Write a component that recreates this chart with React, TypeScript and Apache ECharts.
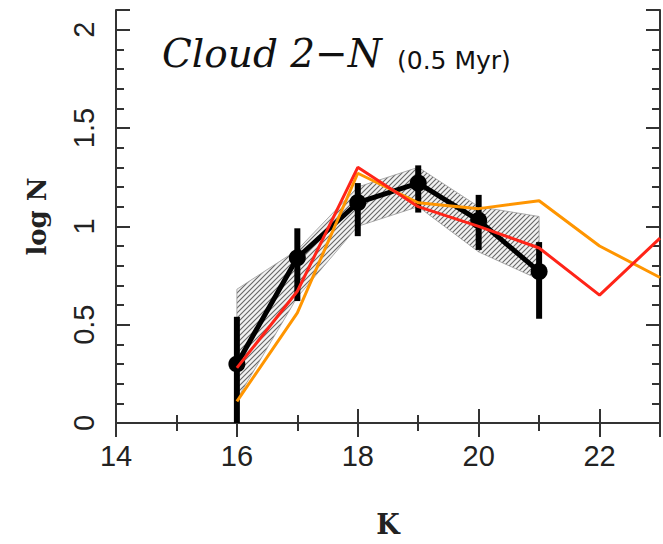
import React, { useEffect, useRef } from "react";
import * as echarts from "echarts";

const K = [16, 17, 18, 19, 20, 21];
const logN = [0.30, 0.84, 1.12, 1.22, 1.03, 0.77];
const errLo = [0.0, 0.62, 0.95, 1.07, 0.88, 0.53];
const errHi = [0.54, 0.99, 1.22, 1.31, 1.16, 0.92];
const bandLo = [0.12, 0.64, 1.0, 1.1, 0.87, 0.73];
const bandHi = [0.68, 0.88, 1.2, 1.3, 1.1, 1.05];

const modelK = [16, 17, 18, 19, 20, 21, 22, 23];
const redModel = [0.28, 0.67, 1.30, 1.10, 1.00, 0.89, 0.65, 0.94];
const orangeModel = [0.11, 0.56, 1.27, 1.12, 1.09, 1.13, 0.90, 0.74];

const xMajorTicks = [14, 16, 18, 20, 22];
const yMajorTicks = [0, 0.5, 1, 1.5, 2];

function makeHatch(): HTMLCanvasElement {
  const c = document.createElement("canvas");
  const s = 5;
  c.width = s;
  c.height = s;
  const ctx = c.getContext("2d")!;
  ctx.fillStyle = "#f2f2f2";
  ctx.fillRect(0, 0, s, s);
  ctx.strokeStyle = "#666";
  ctx.lineWidth = 1.1;
  ctx.beginPath();
  ctx.moveTo(-1, s + 1);
  ctx.lineTo(s + 1, -1);
  ctx.moveTo(-1, 1);
  ctx.lineTo(1, -1);
  ctx.moveTo(s - 1, s + 1);
  ctx.lineTo(s + 1, s - 1);
  ctx.stroke();
  return c;
}

export default function App() {
  const ref = useRef<HTMLDivElement>(null);
  useEffect(() => {
    document.body.style.margin = "0";
    document.body.style.background = "#ffffff";
    const chart = echarts.init(ref.current!, null, { renderer: "svg" });
    const hatch = makeHatch();
    const axisColor = "#333";
    const labelFont = { fontFamily: "Liberation Sans", fontSize: 29, color: "#222" };
    const baseX = {
      type: "value" as const,
      min: 14,
      max: 23,
      splitLine: { show: false },
    };
    const baseY = {
      type: "value" as const,
      min: 0,
      max: 2.1,
      splitLine: { show: false },
    };
    const option: any = {
      animation: false,
      backgroundColor: "#ffffff",
      grid: { left: 116, right: 3, top: 10, bottom: 121, containLabel: false },
      xAxis: [
        {
          ...baseX,
          position: "bottom",
          interval: 2,
          axisLine: { show: true, lineStyle: { color: axisColor, width: 2 } },
          axisTick: { show: true, inside: true, length: 14, lineStyle: { color: axisColor, width: 2 } },
          axisLabel: {
            ...labelFont,
            margin: 18,
            formatter: (v: number) => (xMajorTicks.includes(v) ? String(v) : ""),
          },
          name: "K",
          nameLocation: "middle",
          nameGap: 88,
          nameTextStyle: { fontFamily: "DejaVu Serif", fontSize: 27, fontWeight: "bold", color: "#222" },
        },
        {
          ...baseX,
          position: "bottom",
          interval: 1,
          axisLine: { show: false },
          axisTick: { show: true, inside: true, length: 8, lineStyle: { color: axisColor, width: 2 } },
          axisLabel: { show: false },
        },
        {
          ...baseX,
          position: "top",
          interval: 2,
          axisLine: { show: true, lineStyle: { color: axisColor, width: 2 } },
          axisTick: { show: true, inside: true, length: 14, lineStyle: { color: axisColor, width: 2 } },
          axisLabel: { show: false },
        },
        {
          ...baseX,
          position: "top",
          interval: 1,
          axisLine: { show: false },
          axisTick: { show: true, inside: true, length: 8, lineStyle: { color: axisColor, width: 2 } },
          axisLabel: { show: false },
        },
      ],
      yAxis: [
        {
          ...baseY,
          position: "left",
          interval: 0.5,
          axisLine: { show: true, lineStyle: { color: axisColor, width: 2 } },
          axisTick: { show: true, inside: true, length: 14, lineStyle: { color: axisColor, width: 2 } },
          axisLabel: {
            ...labelFont,
            rotate: 90,
            margin: 18,
            formatter: (v: number) => (yMajorTicks.some((t) => Math.abs(t - v) < 1e-6) ? String(v) : ""),
          },
          name: "log N",
          nameLocation: "middle",
          nameRotate: 90,
          nameGap: 66,
          nameTextStyle: { fontFamily: "DejaVu Serif", fontSize: 26, fontWeight: "bold", color: "#222" },
        },
        {
          ...baseY,
          position: "left",
          interval: 0.1,
          axisLine: { show: false },
          axisTick: { show: true, inside: true, length: 8, lineStyle: { color: axisColor, width: 2 } },
          axisLabel: { show: false },
        },
        {
          ...baseY,
          position: "right",
          interval: 0.5,
          axisLine: { show: true, lineStyle: { color: axisColor, width: 2 } },
          axisTick: { show: true, inside: true, length: 14, lineStyle: { color: axisColor, width: 2 } },
          axisLabel: { show: false },
        },
        {
          ...baseY,
          position: "right",
          interval: 0.1,
          axisLine: { show: false },
          axisTick: { show: true, inside: true, length: 8, lineStyle: { color: axisColor, width: 2 } },
          axisLabel: { show: false },
        },
      ],
      graphic: [
        {
          type: "text",
          left: 162,
          top: 34,
          style: {
            text: "Cloud 2\u2212N",
            font: "italic 39px 'DejaVu Serif'",
            fill: "#111",
          },
        },
        {
          type: "text",
          left: 397,
          top: 48,
          style: {
            text: "(0.5 Myr)",
            font: "25px 'DejaVu Sans'",
            fill: "#111",
          },
        },
      ],
      series: [
        {
          type: "custom",
          name: "band",
          xAxisIndex: 0,
          yAxisIndex: 0,
          data: [[K[0], bandLo[0]]],
          renderItem: (_params: any, api: any) => {
            const upper = K.map((k, i) => api.coord([k, bandHi[i]]));
            const lower = K.map((k, i) => api.coord([k, bandLo[i]])).reverse();
            return {
              type: "polygon",
              shape: { points: upper.concat(lower) },
              style: {
                fill: { image: hatch, repeat: "repeat" },
                stroke: "#999",
                lineWidth: 0.8,
              },
            };
          },
          z: 1,
        },
        {
          type: "custom",
          name: "errors",
          xAxisIndex: 0,
          yAxisIndex: 0,
          data: K.map((k, i) => [k, errLo[i], errHi[i]]),
          renderItem: (_params: any, api: any) => {
            const p1 = api.coord([api.value(0), api.value(1)]);
            const p2 = api.coord([api.value(0), api.value(2)]);
            return {
              type: "line",
              shape: { x1: p1[0], y1: p1[1], x2: p2[0], y2: p2[1] },
              style: { stroke: "#000", lineWidth: 6 },
            };
          },
          z: 2,
        },
        {
          type: "line",
          name: "observed",
          xAxisIndex: 0,
          yAxisIndex: 0,
          data: K.map((k, i) => [k, logN[i]]),
          lineStyle: { color: "#000", width: 5 },
          itemStyle: { color: "#000" },
          symbol: "circle",
          symbolSize: 17,
          z: 3,
        },
        {
          type: "line",
          name: "orange",
          xAxisIndex: 0,
          yAxisIndex: 0,
          data: modelK.map((k, i) => [k, orangeModel[i]]),
          lineStyle: { color: "#ff9500", width: 3 },
          symbol: "none",
          z: 4,
        },
        {
          type: "line",
          name: "red",
          xAxisIndex: 0,
          yAxisIndex: 0,
          data: modelK.map((k, i) => [k, redModel[i]]),
          lineStyle: { color: "#ff2418", width: 3 },
          symbol: "none",
          z: 5,
        },
      ],
    };
    chart.setOption(option);
    return () => chart.dispose();
  }, []);
  return <div ref={ref} style={{ width: 663, height: 544 }} />;
}
